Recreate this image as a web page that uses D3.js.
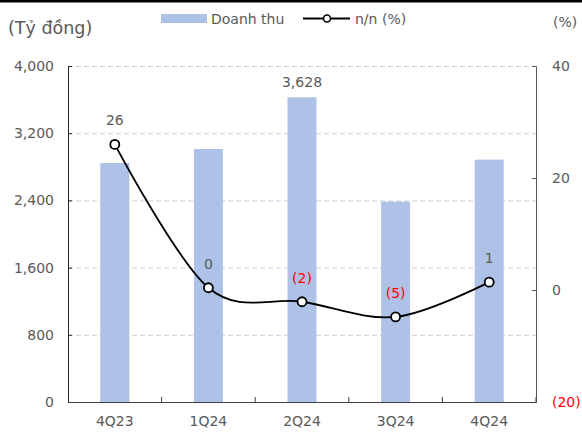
<!DOCTYPE html>
<html>
<head>
<meta charset="utf-8">
<script src="https://cdn.jsdelivr.net/npm/d3@7"></script>
<style>
  html, body { margin: 0; padding: 0; background: #fff; }
  svg { display: block; font-family: "DejaVu Sans", Verdana, sans-serif; }
</style>
</head>
<body>
<svg id="chart" width="582" height="436"></svg>
<script>
// Quarterly revenue (billion VND) and year-on-year change (%)
const quarters = ["4Q23", "1Q24", "2Q24", "3Q24", "4Q24"];
const revenue = [2845, 3012, 3628, 2385, 2885];
const yoy = [26.0, 0.4, -2.1, -4.8, 1.4];
const revenueTicks = [0, 800, 1600, 2400, 3200, 4000];
const yoyTicks = [-20, 0, 20, 40];
const revenueLabelled = ["2Q24"];

const svg = d3.select("#chart");
const plot = { left: 68, right: 536, top: 66, bottom: 402 };
const grey = "#595959";
const red = "#ff0000";
const fs = 14;

const x = d3.scaleBand().domain(quarters).range([plot.left, plot.right]).paddingInner(0.69).paddingOuter(0.345);
const xBand = d3.scaleBand().domain(quarters).range([plot.left, plot.right]);
const yL = d3.scaleLinear().domain([0, 4000]).range([plot.bottom, plot.top]);
const yR = d3.scaleLinear().domain([-20, 40]).range([plot.bottom, plot.top]);

const fmtRev = d3.format(",");
const fmtPct = v => { const r = Math.round(v); return r < 0 ? "(" + Math.abs(r) + ")" : String(r); };

// top rule
svg.append("rect").attr("x", 0).attr("y", 0).attr("width", 582).attr("height", 2.5).attr("fill", "#000");

// gridlines
svg.append("g").selectAll("line").data(revenueTicks.filter(d => d > 0)).join("line")
  .attr("x1", plot.left).attr("x2", plot.right)
  .attr("y1", d => yL(d) + 0.5).attr("y2", d => yL(d) + 0.5)
  .attr("stroke", "#d0d0d0").attr("stroke-width", 1).attr("stroke-dasharray", "5,3");

// bars
svg.append("g").selectAll("rect").data(quarters).join("rect")
  .attr("x", d => x(d)).attr("width", x.bandwidth())
  .attr("y", (d, i) => yL(revenue[i])).attr("height", (d, i) => yL(0) - yL(revenue[i]))
  .attr("fill", "#adc2e6");

// bar value label
svg.append("g").selectAll("text").data(quarters.filter(q => revenueLabelled.includes(q))).join("text")
  .attr("x", d => x(d) + x.bandwidth() / 2)
  .attr("y", d => yL(revenue[quarters.indexOf(d)]) - 10)
  .attr("text-anchor", "middle").attr("font-size", fs).attr("fill", grey)
  .text(d => fmtRev(revenue[quarters.indexOf(d)]));

// left axis
const axL = svg.append("g").attr("transform", `translate(${plot.left},0)`)
  .call(d3.axisLeft(yL).tickValues(revenueTicks).tickFormat(fmtRev).tickSize(-4).tickPadding(14));
axL.select(".domain").attr("stroke", "#262626");
axL.selectAll(".tick line").attr("stroke", "#262626");
axL.selectAll("text").attr("font-size", fs).attr("fill", grey).attr("font-family", "DejaVu Sans, sans-serif");

// right axis
const axR = svg.append("g").attr("transform", `translate(${plot.right},0)`)
  .call(d3.axisRight(yR).tickValues(yoyTicks).tickFormat(fmtPct).tickSize(-4).tickPadding(16));
axR.select(".domain").attr("stroke", "#595959");
axR.selectAll(".tick line").attr("stroke", "#595959");
axR.selectAll("text").attr("font-size", fs).attr("font-family", "DejaVu Sans, sans-serif")
  .attr("fill", d => d < 0 ? red : grey);

// bottom axis
const axB = svg.append("g").attr("transform", `translate(0,${plot.bottom})`)
  .call(d3.axisBottom(xBand).tickSize(0).tickPadding(14));
axB.select(".domain").attr("stroke", "#404040");
axB.selectAll("text").attr("font-size", fs).attr("fill", grey).attr("font-family", "DejaVu Sans, sans-serif");
svg.append("g").selectAll("line").data(quarters.slice(1).concat(["end"])).join("line")
  .attr("x1", d => d === "end" ? plot.right : xBand(d)).attr("x2", d => d === "end" ? plot.right : xBand(d))
  .attr("y1", plot.bottom).attr("y2", plot.bottom - 5)
  .attr("stroke", "#404040");

// yoy line
const pts = quarters.map((q, i) => [xBand(q) + xBand.bandwidth() / 2, yR(yoy[i])]);
svg.append("path").attr("d", d3.line().curve(d3.curveCatmullRom.alpha(0))(pts))
  .attr("fill", "none").attr("stroke", "#000").attr("stroke-width", 1.8);
svg.append("g").selectAll("circle").data(pts).join("circle")
  .attr("cx", d => d[0]).attr("cy", d => d[1]).attr("r", 4.5)
  .attr("fill", "#fff").attr("stroke", "#000").attr("stroke-width", 1.8);
svg.append("g").selectAll("text").data(yoy).join("text")
  .attr("x", (d, i) => pts[i][0]).attr("y", (d, i) => pts[i][1] - 19)
  .attr("text-anchor", "middle").attr("font-size", fs)
  .attr("fill", d => Math.round(d) < 0 ? red : grey)
  .text(fmtPct);

// axis titles
svg.append("text").attr("x", 8).attr("y", 34).attr("font-size", 17.5).attr("fill", grey).text("(Tỷ đồng)");
svg.append("text").attr("x", 553).attr("y", 27).attr("font-size", fs).attr("fill", grey).text("(%)");

// legend
const lg = svg.append("g");
lg.append("rect").attr("x", 161).attr("y", 14).attr("width", 46).attr("height", 9).attr("fill", "#adc2e6");
lg.append("text").attr("x", 211).attr("y", 24).attr("font-size", fs).attr("fill", grey).text("Doanh thu");
lg.append("line").attr("x1", 303).attr("x2", 350).attr("y1", 18.5).attr("y2", 18.5).attr("stroke", "#000").attr("stroke-width", 1.8);
lg.append("circle").attr("cx", 327).attr("cy", 18.5).attr("r", 3.5).attr("fill", "#fff").attr("stroke", "#000").attr("stroke-width", 1.6);
lg.append("text").attr("x", 355).attr("y", 24).attr("font-size", fs).attr("fill", grey).text("n/n (%)");
</script>
</body>
</html>
